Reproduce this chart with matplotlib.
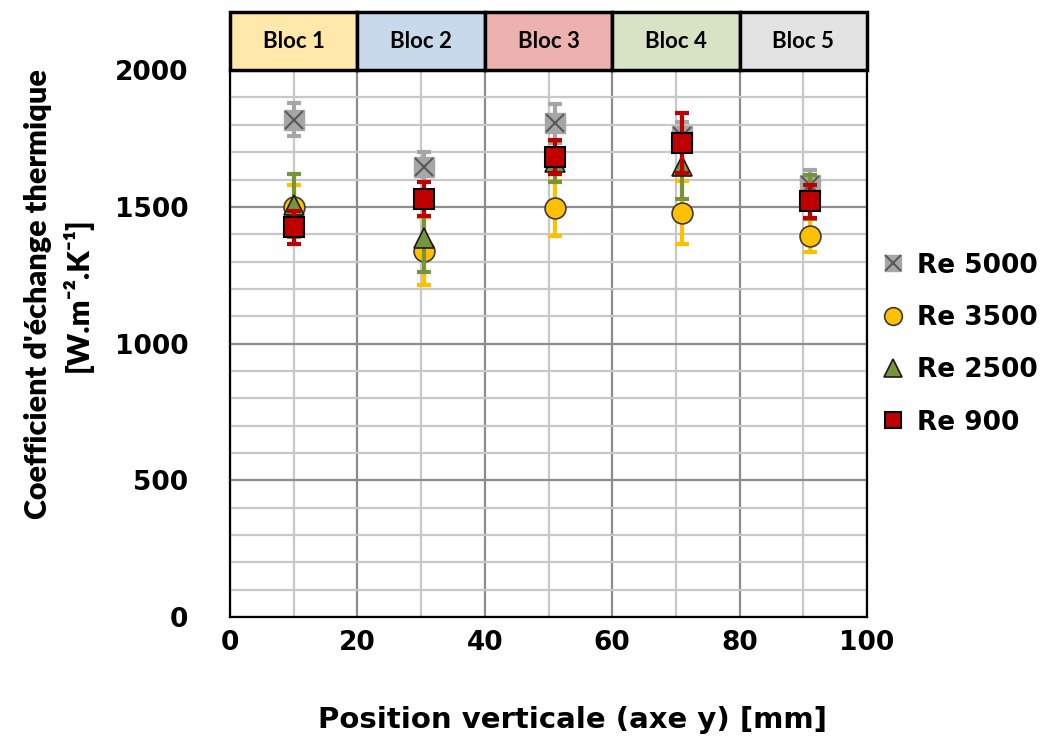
import matplotlib.pyplot as plt
import matplotlib.patches as mpatches
import matplotlib.ticker as ticker
import matplotlib.transforms as mtransforms
from matplotlib.legend_handler import HandlerTuple

plt.rcParams['font.family'] = ['DejaVu Sans']
plt.rcParams['font.weight'] = 'bold'

# data
positions = [10, 30.5, 51, 71, 91]
re5000 = [1818, 1645, 1805, 1760, 1580]
re5000_err = [60, 55, 70, 50, 55]
re3500 = [1500, 1338, 1495, 1478, 1395]
re3500_err = [80, 125, 100, 115, 60]
re2500 = [1505, 1385, 1665, 1648, 1535]
re2500_err = [115, 125, 75, 120, 80]
re900 = [1425, 1528, 1683, 1732, 1520]
re900_err = [60, 62, 62, 110, 60]

bloc_labels = ["Bloc 1", "Bloc 2", "Bloc 3", "Bloc 4", "Bloc 5"]
bloc_edges = [0, 20, 40, 60, 80, 100]
bloc_colors = ["#FFE8A9", "#C9D9EC", "#EDB1B0", "#D7E3C4", "#E3E3E3"]

fig = plt.figure(figsize=(10.53, 7.46), dpi=100)
ax = fig.add_axes([0.2184, 0.1729, 0.6050, 0.7331])

ax.set_xlim(0, 100)
ax.set_ylim(0, 2000)

# grid
ax.xaxis.set_major_locator(ticker.MultipleLocator(20))
ax.xaxis.set_minor_locator(ticker.MultipleLocator(10))
ax.yaxis.set_major_locator(ticker.MultipleLocator(500))
ax.yaxis.set_minor_locator(ticker.MultipleLocator(100))
ax.grid(True, which='major', color='#8C8C8C', linewidth=1.6, zorder=0)
ax.grid(True, which='minor', color='#C8C8C8', linewidth=1.6, zorder=0)
ax.set_axisbelow(True)
ax.tick_params(which='both', length=0)
ax.tick_params(axis='x', labelsize=19, pad=9)
ax.tick_params(axis='y', labelsize=19, pad=30)
for s in ax.spines.values():
    s.set_color('black')
    s.set_linewidth(1.6)

eb = dict(fmt='none', elinewidth=3, capsize=5, capthick=3)

# Re 5000: grey square with dark x
ax.errorbar(positions, re5000, yerr=re5000_err, ecolor='#A6A6A6', zorder=2, **eb)
h5a, = ax.plot(positions, re5000, 's', ms=14, mfc='#A6A6A6', mec='#A6A6A6', ls='none', zorder=3)
h5b, = ax.plot(positions, re5000, 'x', ms=13, mec='#595959', mew=1.5, ls='none', zorder=3)

ax.errorbar(positions, re3500, yerr=re3500_err, ecolor='#FFC000', zorder=4, **eb)
h35, = ax.plot(positions, re3500, 'o', ms=15, mfc='#FFC000', mec='#3A3A3A', mew=1.2, ls='none', zorder=5)

ax.errorbar(positions, re2500, yerr=re2500_err, ecolor='#77933C', zorder=6, **eb)
h25, = ax.plot(positions, re2500, '^', ms=15, mfc='#77933C', mec='#1A1A1A', mew=1.2, ls='none', zorder=7)

ax.errorbar(positions, re900, yerr=re900_err, ecolor='#C00000', zorder=8, **eb)
h9, = ax.plot(positions, re900, 's', ms=14, mfc='#C00000', mec='black', mew=1.5, ls='none', zorder=9)

# header boxes above plot
trans = mtransforms.blended_transform_factory(ax.transData, ax.transAxes)
for i, lab in enumerate(bloc_labels):
    x0, x1 = bloc_edges[i], bloc_edges[i + 1]
    ax.add_patch(mpatches.Rectangle((x0, 1.0), x1 - x0, 0.106, transform=trans,
                                    facecolor=bloc_colors[i], edgecolor='black',
                                    linewidth=2.5, clip_on=False, zorder=10))
    ax.text((x0 + x1) / 2, 1.053, lab, transform=trans, ha='center', va='center',
            fontsize=16, fontweight='bold', family=['Lato', 'DejaVu Sans'], zorder=11)

ax.set_xlabel("Position verticale (axe y) [mm]", fontsize=21, fontweight='bold')
ax.xaxis.set_label_coords(0.537, -0.162)
ax.set_ylabel("Coefficient d'échange thermique\n[W.m\u207b\u00b2.K\u207b\u00b9]",
              fontsize=22, fontweight='heavy', linespacing=1.4,
              family=['Lato', 'DejaVu Sans'])
ax.yaxis.set_label_coords(-0.215, 0.59)

leg = ax.legend([(h5a, h5b), h35, h25, h9], ["Re 5000", "Re 3500", "Re 2500", "Re 900"],
                handler_map={tuple: HandlerTuple(ndivide=1, pad=0)},
                loc='center left', bbox_to_anchor=(0.985, 0.499), frameon=False,
                fontsize=19, handlelength=0.9, handletextpad=0.45, labelspacing=1.0,
                markerscale=0.85)

fig.savefig("out.png", dpi=100)
